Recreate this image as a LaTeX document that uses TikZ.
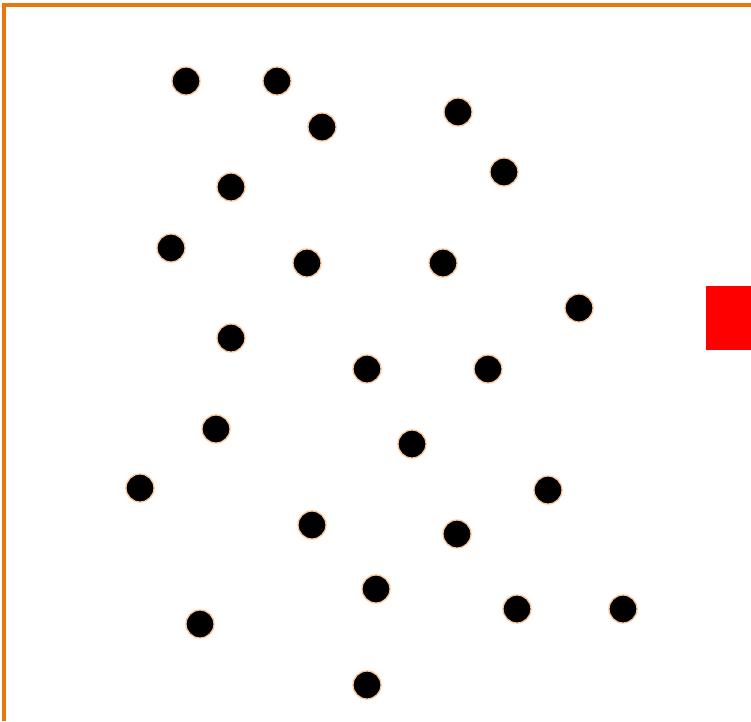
\documentclass[tikz,border=0pt]{standalone}
\usepackage{tikz}
\usepackage{xcolor}
\usetikzlibrary{positioning}
\definecolor{FrameOrange}{RGB}{232,118,12}
\definecolor{RimOrange}{RGB}{250,196,150}
\definecolor{GoalRed}{RGB}{255,0,0}

\begin{document}
\begin{tikzpicture}[x=1pt,y=-1pt,
    dot/.style={circle, fill=black, draw=RimOrange, line width=1.3pt,
                minimum size=28pt, inner sep=0pt},
    goal/.style={fill=GoalRed, draw=none, minimum width=45pt,
                 minimum height=64pt, inner sep=0pt}]
\useasboundingbox (0,0) rectangle (751,721);
% frame (top and left edges only)
\draw[FrameOrange, line width=3.5pt] (4,721) -- (4,5) -- (751,5);
% obstacles
\foreach \x/\y [count=\i] in {186/81, 277/81, 322/127, 458/112, 504/172,
    231/187, 171/248, 307/263, 443/263, 579/308, 231/338, 367/369,
    488/369, 216/429, 412/444, 140/488, 548/490, 312/525, 457/534,
    376/589, 517/609, 623/609, 200/624, 367/685}
  \node[dot] (d\i) at (\x,\y) {};
% target
\node[goal] (target) at (728.5,318) {};
\end{tikzpicture}
\end{document}
